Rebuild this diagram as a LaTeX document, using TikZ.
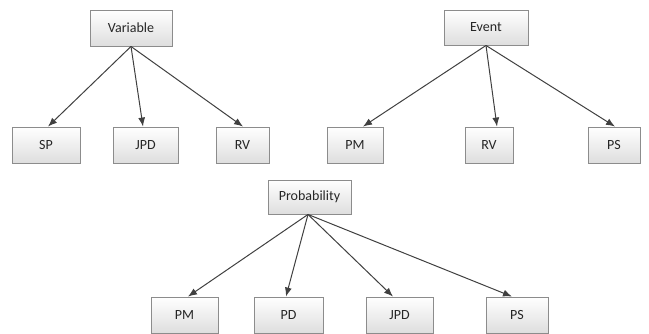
\documentclass[tikz,border=0pt]{standalone}
\usepackage{fontspec}
\setmainfont{Carlito}
\usetikzlibrary{arrows.meta,shadows}
\definecolor{boxborder}{HTML}{8C8C8C}
\definecolor{arrowcol}{HTML}{404040}
\definecolor{txt}{HTML}{262626}
\tikzset{
  box/.style={draw=boxborder, line width=0.9pt, top color=white, bottom color=black!13,
    minimum height=36pt, inner sep=0pt, font=\fontsize{14}{16}\selectfont, text=txt,
    drop shadow={opacity=0.18, shadow xshift=1.2pt, shadow yshift=-1.2pt}},
  link/.style={draw=arrowcol, line width=1pt, -{Latex[length=9pt,width=7pt]}}
}
\begin{document}
\begin{tikzpicture}[x=1pt,y=-1pt]
\useasboundingbox (0,0) rectangle (649,333);
% top-left tree
\node[box, minimum width=82pt] (var) at (131,28) {Variable};
\node[box, minimum width=68pt] (sp) at (46,145) {SP};
\node[box, minimum width=65pt] (jpda) at (145.5,145) {JPD};
\node[box, minimum width=53pt] (rva) at (242.5,145) {RV};
% top-right tree
\node[box, minimum width=84pt, minimum height=35pt] (ev) at (486,27.5) {Event};
\node[box, minimum width=56pt] (pma) at (355,145) {PM};
\node[box, minimum width=48pt] (rvb) at (489,145) {RV};
\node[box, minimum width=52pt] (psa) at (614,145) {PS};
% bottom tree
\node[box, minimum width=83pt, minimum height=34pt] (prob) at (309.5,197) {Probability};
\node[box, minimum width=67pt] (pmb) at (184.5,315) {PM};
\node[box, minimum width=69pt] (pd) at (288.5,315) {PD};
\node[box, minimum width=67pt] (jpdb) at (399.5,315) {JPD};
\node[box, minimum width=62pt] (psb) at (517,315) {PS};
% arrows
\draw[link] (var.south) -- ([xshift=2pt]sp.north);
\draw[link] (var.south) -- ([xshift=-2.5pt]jpda.north);
\draw[link] (var.south) -- ([xshift=0.5pt]rva.north);
\draw[link] (ev.south) -- ([xshift=8pt]pma.north);
\draw[link] (ev.south) -- ([xshift=8pt]rvb.north);
\draw[link] (ev.south) -- ([xshift=1pt]psa.north);
\draw[link] ([xshift=-1.5pt]prob.south) -- ([xshift=3.5pt]pmb.north);
\draw[link] ([xshift=-1.5pt]prob.south) -- ([xshift=-2.5pt]pd.north);
\draw[link] ([xshift=-1.5pt]prob.south) -- ([xshift=-6.5pt]jpdb.north);
\draw[link] ([xshift=-1.5pt]prob.south) -- ([xshift=-5pt]psb.north);
\end{tikzpicture}
\end{document}
